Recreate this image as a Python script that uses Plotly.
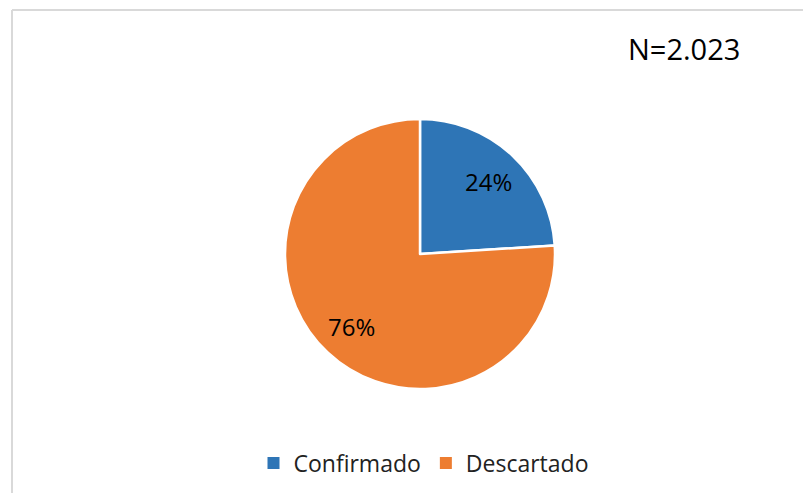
import math
import plotly.graph_objects as go

# data
categorias = ["Confirmado", "Descartado"]
porcentajes = [24, 76]
colores = ["#2E75B6", "#ED7D31"]
total_txt = "N=2.023"

# the page body adds an 8px margin, so the figure is a little smaller
OFF = 8
W, H = 811 - OFF, 493 - OFF


def px(x):
    return (x - OFF) / W


def py(y):
    return 1 - (y - OFF) / H


CX, CY, R = 420, 254, 135

fig = go.Figure()
fig.add_trace(go.Pie(
    labels=categorias,
    values=porcentajes,
    sort=False,
    direction="clockwise",
    rotation=0,
    marker=dict(colors=colores, line=dict(color="white", width=2.5)),
    textinfo="none",
    hoverinfo="label+percent",
    showlegend=False,
    domain=dict(x=[px(CX - R), px(CX + R)], y=[py(CY + R), py(CY - R)]),
))

# legend entries with Excel-sized square keys
for nombre, color in zip(categorias, colores):
    fig.add_trace(go.Scatter(x=[None], y=[None], mode="markers", name=nombre,
                             marker=dict(symbol="square", size=12, color=color),
                             hoverinfo="skip"))

# percentage labels placed like Excel's, at the middle angle of each slice
anns = []
total = sum(porcentajes)
acc = 0
for v in porcentajes:
    mid = (acc + v / 2) / total * 2 * math.pi
    acc += v
    r = 0.74 * R
    lx = CX + r * math.sin(mid)
    ly = CY - r * math.cos(mid)
    anns.append(dict(text=f"{round(v / total * 100)}%", x=px(lx), y=py(ly),
                     xref="paper", yref="paper", xanchor="center", yanchor="middle",
                     showarrow=False, font=dict(size=24, color="black", family="Open Sans")))

anns.append(dict(text=total_txt, x=px(684), y=py(48), xref="paper", yref="paper",
                 xanchor="center", yanchor="middle", showarrow=False,
                 font=dict(size=29, color="black", family="Open Sans")))

fig.update_layout(
    width=W, height=H,
    margin=dict(l=0, r=0, t=0, b=0),
    paper_bgcolor="white",
    plot_bgcolor="white",
    xaxis=dict(visible=False),
    yaxis=dict(visible=False),
    showlegend=True,
    legend=dict(orientation="h", x=px(424), xanchor="center", y=py(463), yanchor="middle",
                font=dict(size=23, color="#222222", family="Open Sans"),
                itemwidth=30),
    font=dict(family="Open Sans"),
    annotations=anns,
    shapes=[
        dict(type="line", xref="paper", yref="paper", x0=px(12), x1=1, y0=py(10), y1=py(10),
             line=dict(color="#D9D9D9", width=2)),
        dict(type="line", xref="paper", yref="paper", x0=px(12), x1=px(12), y0=0, y1=py(10),
             line=dict(color="#D9D9D9", width=2)),
    ],
)

fig.write_html("out.html")
